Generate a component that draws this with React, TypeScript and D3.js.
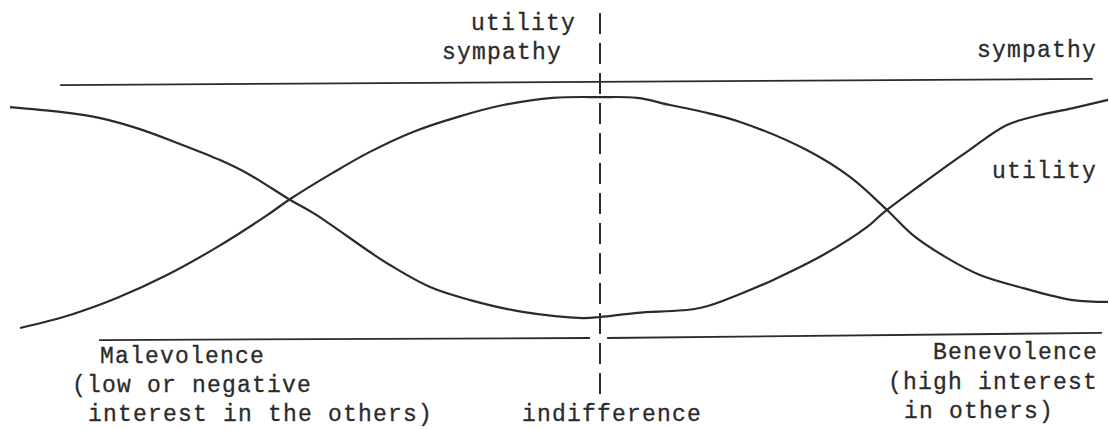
import React from "react";
import * as d3 from "d3";

// Interest in others: -100 = malevolence, 0 = indifference, 100 = benevolence
const sympathyInterest = [-100, -91.5, -84.7, -78.0, -71.2, -64.4, -59.3, -52.5, -48.3, -39.0, -35.6, -28.8, -22.0, -13.1, -2.9, 0, 7.3, 19.7, 27.6, 34.1, 43.9, 52.6, 55.7, 63.6, 72.2, 80.1, 86.6, 93.1, 100];
const sympathyLevel = [90.2, 88.3, 85.9, 81.6, 75.8, 69.5, 63.7, 53.9, 48.4, 33.6, 28.5, 19.9, 14.8, 10.2, 7.8, 8.2, 9.8, 11.7, 17.2, 22.7, 32.4, 43.4, 48.8, 60.5, 72.7, 83.2, 87.1, 89.8, 93.0];

const utilityInterest = [-98.3, -89.8, -81.9, -73.4, -64.9, -56.4, -52.5, -45.3, -39.0, -31.7, -24.2, -16.4, -8.0, 0, 7.3, 13.8, 20.3, 27.6, 40.7, 49.2, 56.5, 61.6, 68.3, 74.8, 83.3, 93.1, 100];
const utilityLevel = [3.9, 9.0, 15.6, 24.6, 35.5, 48.0, 54.3, 64.5, 72.7, 80.5, 86.3, 91.0, 93.8, 94.1, 93.8, 91.0, 88.3, 84.4, 73.4, 62.9, 50.0, 40.2, 31.3, 24.6, 19.5, 14.8, 14.1];

// Reference lines (upper bound / lower axis)
const topLineInterest = [-91.5, 97.0];
const topLineLevel = [98.8, 101.2];
const bottomLeftInterest = [-84.9, -1.7];
const bottomLeftLevel = [-0.8, 0];
const bottomRightInterest = [1.4, 98.8];
const bottomRightLevel = [0, 2.0];
const indifferenceSpan = [127, -23.4];

const W = 1109;
const H = 429;
const INK = "#2b2b2b";
const FONT = "'Liberation Mono', 'Courier New', monospace";

export default function App() {
  const x = d3.scaleLinear().domain([-100, 0, 100]).range([10, 600, 1108]);
  const y = d3.scaleLinear().domain([0, 100]).range([338, 82]);

  const line = d3
    .line<[number, number]>()
    .x((d) => x(d[0]))
    .y((d) => y(d[1]))
    .curve(d3.curveCatmullRom.alpha(0.5));
  const straight = d3
    .line<[number, number]>()
    .x((d) => x(d[0]))
    .y((d) => y(d[1]));

  const zip = (a: number[], b: number[]) => a.map((v, i) => [v, b[i]] as [number, number]);

  const textStyle = {
    fontFamily: FONT,
    fontSize: 23,
    letterSpacing: 1.2,
    fill: INK,
    stroke: INK,
    strokeWidth: 0.3,
  } as React.CSSProperties;

  return (
    <svg
      width={W}
      height={H}
      style={{ position: "absolute", left: 0, top: 0, background: "#fff" }}
    >
      <rect x={0} y={0} width={W} height={H} fill="#fff" />
      {/* horizontal reference lines */}
      <path d={straight(zip(topLineInterest, topLineLevel)) || ""} stroke={INK} strokeWidth={1.8} fill="none" />
      <path d={straight(zip(bottomLeftInterest, bottomLeftLevel)) || ""} stroke={INK} strokeWidth={1.8} fill="none" />
      <path d={straight(zip(bottomRightInterest, bottomRightLevel)) || ""} stroke={INK} strokeWidth={1.8} fill="none" />
      {/* indifference dashed line */}
      <line
        x1={x(0)}
        x2={x(0)}
        y1={y(indifferenceSpan[0])}
        y2={y(indifferenceSpan[1])}
        stroke={INK}
        strokeWidth={2}
        strokeDasharray="21 9"
      />
      {/* curves */}
      <path d={line(zip(sympathyInterest, sympathyLevel)) || ""} stroke={INK} strokeWidth={2.2} fill="none" />
      <path d={line(zip(utilityInterest, utilityLevel)) || ""} stroke={INK} strokeWidth={2.2} fill="none" />

      {/* labels */}
      <text x={471} y={30} style={textStyle}>utility</text>
      <text x={442} y={59} style={textStyle}>sympathy</text>
      <text x={977} y={57} style={textStyle}>sympathy</text>
      <text x={992} y={178} style={textStyle}>utility</text>

      <text x={100} y={363} style={textStyle}>Malevolence</text>
      <text x={72} y={392} style={textStyle}>(low or negative</text>
      <text x={88} y={421} style={textStyle}>interest in the others)</text>

      <text x={522} y={421} style={textStyle}>indifference</text>

      <text x={933} y={359} style={textStyle}>Benevolence</text>
      <text x={888} y={389} style={textStyle}>(high interest</text>
      <text x={904} y={418} style={textStyle}>in others)</text>
    </svg>
  );
}
